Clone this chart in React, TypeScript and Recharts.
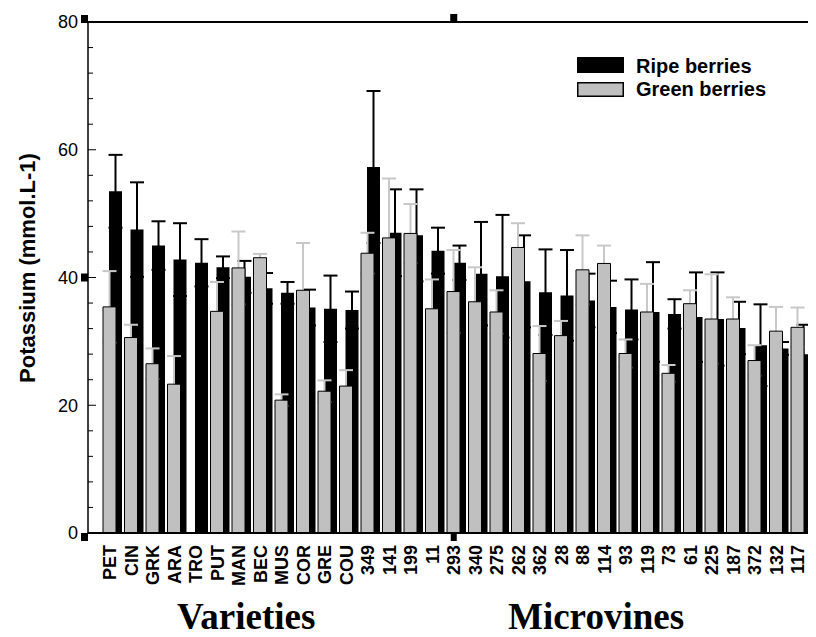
import { BarChart, Bar, XAxis, YAxis, ErrorBar, ReferenceDot, ReferenceLine } from "recharts";

const categories = [
  "PET", "CIN", "GRK", "ARA", "TRO", "PUT", "MAN", "BEC", "MUS", "COR", "GRE", "COU",
  "349", "141", "199", "11", "293", "340", "275", "262", "362", "28", "88", "114",
  "93", "119", "73", "61", "225", "187", "372", "132", "117",
];

// mean potassium, ripe berries
const ripeValues = [
  53.5, 47.5, 45.0, 42.8, 42.3, 41.6, 40.1, 38.3, 37.6, 35.3, 35.1, 34.9,
  57.3, 47.0, 46.6, 44.2, 42.3, 40.6, 40.2, 39.4, 37.7, 37.2, 36.4, 35.4,
  35.0, 34.6, 34.3, 33.8, 33.5, 32.1, 29.4, 28.9, 28.0,
];
const ripeSd = [
  5.7, 7.4, 3.8, 5.7, 3.7, 1.7, 2.5, 2.4, 1.7, 2.8, 5.2, 2.9,
  11.9, 6.8, 7.2, 3.6, 2.7, 8.1, 9.6, 7.2, 6.7, 7.1, 4.2, 4.1,
  4.7, 7.8, 2.3, 7.0, 7.3, 4.1, 6.4, 1.0, 4.6,
];

// mean potassium, green berries (no sample for TRO)
const greenValues = [
  35.4, 30.6, 26.5, 23.3, null, 34.7, 41.5, 43.1, 20.8, 38.0, 22.2, 23.0,
  43.8, 46.2, 46.9, 35.1, 37.8, 36.2, 34.6, 44.7, 28.1, 30.9, 41.2, 42.2,
  28.1, 34.6, 25.0, 35.9, 33.5, 33.5, 27.0, 31.6, 32.2,
];
const greenSd = [
  5.6, 2.0, 2.4, 4.4, null, 4.6, 5.7, 0.6, 0.9, 7.4, 1.7, 2.5,
  3.2, 9.3, 4.6, 4.6, 6.5, 5.4, 3.4, 3.8, 4.3, 2.3, 5.4, 2.8,
  2.2, 4.4, 1.3, 2.1, 7.0, 3.4, 2.4, 3.8, 3.1,
];

const yTicks = [0, 4, 8, 12, 16, 20, 24, 28, 32, 36, 40, 44, 48, 52, 56, 60, 64, 68, 72, 76, 80];

const rows = categories.map((name, i) => ({
  name,
  ripe: ripeValues[i],
  ripeSd: ripeSd[i],
  green: greenValues[i],
  greenSd: greenSd[i] ?? undefined,
}));

const SANS = "'Liberation Sans', Arial, sans-serif";
const SERIF = "'Liberation Serif', 'Times New Roman', serif";

function LeftTick(props: any) {
  const { x, y, payload } = props;
  const v = payload.value;
  const major = v % 20 === 0;
  return (
    <g>
      <line x1={x + 10} x2={x + (major ? 18 : 15)} y1={y} y2={y} stroke="#000" strokeWidth={1} />
      {v === 80 && <rect x={x + 3} y={y - 7} width={7} height={8} fill="#000" />}
      {v === 40 && <rect x={x + 3} y={y - 4} width={7} height={8} fill="#000" />}
      {v === 0 && <rect x={x + 3} y={y} width={7} height={8} fill="#000" />}
      {major && (
        <text x={x} y={y} dy="0.36em" textAnchor="end" fontSize={18} fontFamily={SANS} fill="#000">
          {v}
        </text>
      )}
    </g>
  );
}

function RightTick(props: any) {
  const { x, y, payload } = props;
  const major = payload.value % 20 === 0;
  return <line x1={x - (major ? 6 : 4)} x2={x} y1={y} y2={y} stroke={major ? "#333" : "#c4c4c4"} strokeWidth={1} />;
}

function CategoryTick(props: any) {
  const { x, y, payload } = props;
  return (
    <g>
      {payload.value === "293" && <rect x={x - 3} y={y - 12} width={6} height={8} fill="#000" />}
      <text
        x={x}
        y={y}
        dy="0.36em"
        transform={`rotate(-90, ${x}, ${y})`}
        textAnchor="end"
        fontSize={18}
        fontWeight="bold"
        fontFamily={SANS}
        fill="#000"
      >
        {payload.value}
      </text>
    </g>
  );
}

function TopHandle(props: any) {
  const { cx, cy } = props;
  return <rect x={cx - 3.5} y={cy - 8} width={7} height={8} fill="#000" />;
}

export default function App() {
  return (
    <div style={{ position: "relative", width: 816, height: 637, margin: -8, overflow: "hidden", background: "#fff" }}>
      <BarChart width={817} height={637} data={rows} margin={{ top: 22, right: 1, left: 0, bottom: 0 }}>
        <XAxis
          xAxisId="a"
          dataKey="name"
          type="category"
          interval={0}
          padding={{ left: 11, right: 7.5 }}
          height={104}
          tickSize={0}
          tickMargin={12}
          tick={<CategoryTick />}
          axisLine={{ stroke: "#000", strokeWidth: 2 }}
        />
        <XAxis xAxisId="b" dataKey="name" type="category" hide padding={{ left: 17, right: 1.5 }} />
        {/* same band layout as "a"; carries the grey whiskers */}
        <XAxis xAxisId="c" dataKey="name" type="category" hide padding={{ left: 11, right: 7.5 }} />
        <XAxis xAxisId="d" dataKey="name" type="category" hide />
        <YAxis
          yAxisId="l"
          domain={[0, 80]}
          ticks={yTicks}
          interval={0}
          width={88}
          tickSize={0}
          tickMargin={10}
          tick={<LeftTick />}
          axisLine={{ stroke: "#000", strokeWidth: 1.5 }}
        />
        <YAxis
          yAxisId="rt"
          orientation="right"
          domain={[0, 80]}
          ticks={yTicks}
          interval={0}
          width={0}
          tickSize={0}
          tickMargin={0}
          tick={<RightTick />}
          axisLine={false}
        />
        <Bar xAxisId="b" yAxisId="l" dataKey="ripe" name="Ripe berries" fill="#000" barSize={13} isAnimationActive={false}>
          <ErrorBar dataKey="ripeSd" direction="y" width={7} stroke="#000" strokeWidth={2} />
        </Bar>
        <Bar xAxisId="c" yAxisId="l" dataKey="green" fill="none" stroke="none" barSize={13} legendType="none" isAnimationActive={false}>
          <ErrorBar dataKey="greenSd" direction="y" width={7} stroke="#c8c8c8" strokeWidth={2} />
        </Bar>
        <Bar
          xAxisId="a"
          yAxisId="l"
          dataKey="green"
          name="Green berries"
          fill="#c0c0c0"
          stroke="#000"
          strokeWidth={1}
          barSize={13}
          zIndex={450}
          isAnimationActive={false}
        />
        <ReferenceLine xAxisId="d" yAxisId="l" y={80} stroke="#000" strokeWidth={2} ifOverflow="visible" />
        <ReferenceDot xAxisId="a" yAxisId="l" x="293" y={80} r={4} shape={<TopHandle />} ifOverflow="visible" />
      </BarChart>

      <svg width={816} height={637} style={{ position: "absolute", left: 0, top: 0, pointerEvents: "none" }}>
        <text
          x={27}
          y={268}
          dy="0.36em"
          transform="rotate(-90, 27, 268)"
          textAnchor="middle"
          fontSize={22}
          fontWeight="bold"
          fontFamily={SANS}
          fill="#000"
        >
          Potassium (mmol.L-1)
        </text>
        <rect x={577} y={57} width={47} height={16} fill="#000" />
        <rect x={577.75} y={82.75} width={45.5} height={13.5} fill="#c0c0c0" stroke="#000" strokeWidth={1.5} />
        <text x={636} y={73} fontSize={20} fontWeight="bold" fontFamily={SANS} fill="#000">
          Ripe berries
        </text>
        <text x={636} y={96} fontSize={20} fontWeight="bold" fontFamily={SANS} fill="#000">
          Green berries
        </text>
        <text x={177} y={629} fontSize={37} fontWeight="bold" fontFamily={SERIF} fill="#000">
          Varieties
        </text>
        <text x={508} y={629} fontSize={37} fontWeight="bold" fontFamily={SERIF} fill="#000">
          Microvines
        </text>
      </svg>
    </div>
  );
}
